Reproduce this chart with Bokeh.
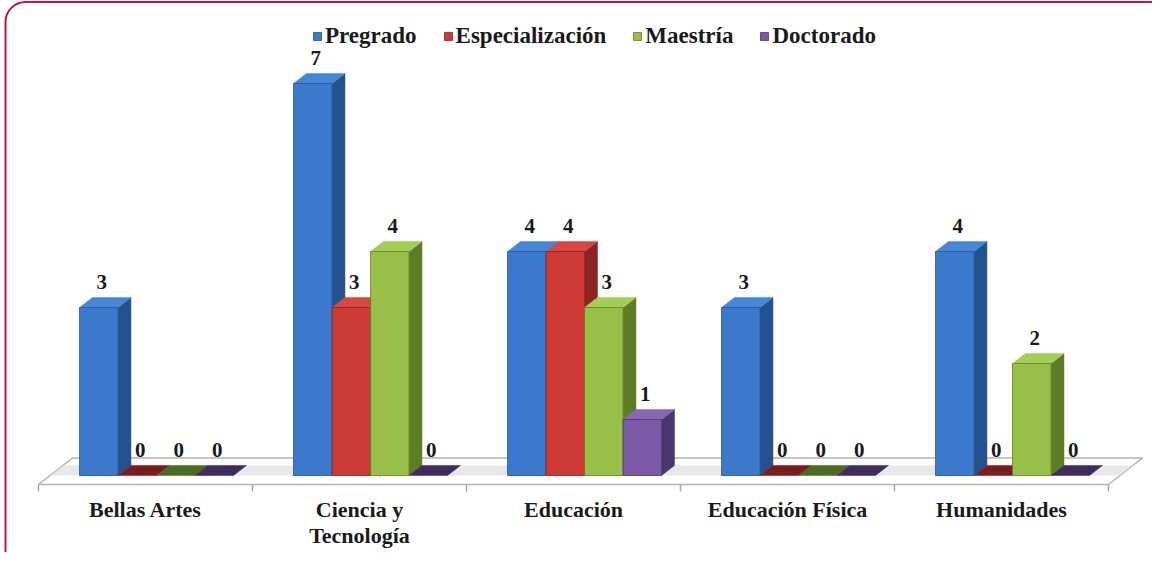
from bokeh.plotting import figure
from bokeh.models import Range1d, Legend, LegendItem, BoxAnnotation
from bokeh.core.properties import value
from bokeh.embed import file_html
from bokeh.resources import INLINE

# ---------------- data ----------------
categories = ["Bellas Artes", "Ciencia y\nTecnología", "Educación", "Educación Física", "Humanidades"]
series_names = ["Pregrado", "Especialización", "Maestría", "Doctorado"]
pregrado = [3, 7, 4, 3, 4]
especializacion = [0, 3, 4, 0, 0]
maestria = [0, 4, 3, 0, 2]
doctorado = [0, 0, 1, 0, 0]
series_values = [pregrado, especializacion, maestria, doctorado]

# ---------------- styles ----------------
front_colors = ["#3a79cc", "#cd3a36", "#98c048", "#7c58a6"]
side_colors = ["#24528f", "#8c2421", "#5f7d27", "#4b356f"]
top_colors = ["#4586d8", "#d64843", "#a6cd56", "#8866b2"]
flat_colors = ["#27508a", "#7a1d1d", "#4f6b23", "#3f2c5e"]
FONT_NAME = "'Liberation Serif', serif"
FONT = value(FONT_NAME)

W, H = 1152, 552
PX_CAT = 214.0     # pixels per category slot
PX_UNIT = 56.0     # pixels per value unit
ORIGIN_X = 38.0    # px from left edge to the front-left corner of the floor
ORIGIN_Y = 77.0    # px from bottom edge to bar base (value 0)
DEPTH_X, DEPTH_Y = 34.0, 26.5  # floor depth offset in px
Z_FRONT, Z_BACK = 0.34, 0.72   # bar depth within floor
GAP_PX = 29.5
BAR_PX = 38.5

x_start = -ORIGIN_X / PX_CAT
x_end = (W - ORIGIN_X) / PX_CAT
y_start = -ORIGIN_Y / PX_UNIT
y_end = (H - ORIGIN_Y) / PX_UNIT
DX = DEPTH_X / PX_CAT
DY = DEPTH_Y / PX_UNIT
n_cat = len(categories)


def proj(x, v, z):
    return x + z * DX, v + (z - Z_FRONT) * DY


def quad(pts):
    xs, ys = zip(*[proj(*p) for p in pts])
    return list(xs), list(ys)


p = figure(width=W, height=H, x_range=Range1d(x_start, x_end), y_range=Range1d(y_start, y_end),
           output_backend="svg", toolbar_location=None, min_border=0,
           x_axis_location=None, y_axis_location=None)
p.grid.visible = False
p.outline_line_color = None
p.background_fill_color = "white"
p.border_fill_color = "white"

# ---------------- floor ----------------
fx, fy = quad([(0, 0, 0), (n_cat, 0, 0), (n_cat, 0, 1), (0, 0, 1)])
p.patch(fx, fy, fill_color="white", line_color="#b3b3b3", line_width=1.5)
sx, sy = quad([(0, 0, Z_FRONT), (n_cat, 0, Z_FRONT), (n_cat, 0, Z_BACK), (0, 0, Z_BACK)])
p.patch(sx, sy, fill_color="#dedede", fill_alpha=0.7, line_color=None)
tick_x0, tick_y0, tick_x1, tick_y1 = [], [], [], []
for k in range(n_cat + 1):
    x0, y0 = proj(k, 0, 0)
    tick_x0.append(x0); tick_y0.append(y0)
    tick_x1.append(x0); tick_y1.append(y0 - 7 / PX_UNIT)
p.segment(tick_x0, tick_y0, tick_x1, tick_y1, line_color="#a6a6a6", line_width=1.5)

# ---------------- bars ----------------
legend_items = []
lab_x, lab_y, lab_t = [], [], []
bw = BAR_PX / PX_CAT
for j, vals in enumerate(series_values):
    fronts = ([], [])
    sides = ([], [])
    tops = ([], [])
    flats = ([], [])
    for i, v in enumerate(vals):
        xl = i + GAP_PX / PX_CAT + j * bw
        xr = xl + bw
        if v > 0:
            a = quad([(xl, 0, Z_FRONT), (xr, 0, Z_FRONT), (xr, v, Z_FRONT), (xl, v, Z_FRONT)])
            b = quad([(xr, 0, Z_FRONT), (xr, 0, Z_BACK), (xr, v, Z_BACK), (xr, v, Z_FRONT)])
            c = quad([(xl, v, Z_FRONT), (xr, v, Z_FRONT), (xr, v, Z_BACK), (xl, v, Z_BACK)])
            fronts[0].append(a[0]); fronts[1].append(a[1])
            sides[0].append(b[0]); sides[1].append(b[1])
            tops[0].append(c[0]); tops[1].append(c[1])
        else:
            c = quad([(xl, 0, Z_FRONT), (xr, 0, Z_FRONT), (xr, 0, Z_BACK), (xl, 0, Z_BACK)])
            flats[0].append(c[0]); flats[1].append(c[1])
        lab_x.append((xl + xr) / 2 + Z_FRONT * DX + 3 / PX_CAT)
        lab_y.append(v + (Z_BACK - Z_FRONT) * DY + 15 / PX_UNIT)
        lab_t.append(str(v))
    p.patches(flats[0], flats[1], fill_color=flat_colors[j], line_color=flat_colors[j], line_width=0.5)
    p.patches(sides[0], sides[1], fill_color=side_colors[j], line_color=side_colors[j], line_width=0.5)
    p.patches(tops[0], tops[1], fill_color=top_colors[j], line_color=top_colors[j], line_width=0.5)
    r = p.patches(fronts[0], fronts[1], fill_color=front_colors[j], line_color=side_colors[j], line_width=0.8)
    legend_items.append(LegendItem(label=series_names[j], renderers=[r]))

p.text(lab_x, lab_y, text=lab_t, text_font=FONT, text_font_size="21px", text_font_style="bold",
       text_color="#1a1a1a", text_align="center", text_baseline="alphabetic")

# ---------------- category labels ----------------
cx = [i + 0.5 for i in range(n_cat)]
cy = [-Z_FRONT * DY - 12 / PX_UNIT] * n_cat
p.text(cx, cy, text=categories, text_font=FONT, text_font_size="22px", text_font_style="bold",
       text_color="#1a1a1a", text_align="center", text_baseline="top", text_line_height=1.05)

# ---------------- legend ----------------
legend = Legend(items=legend_items, orientation="horizontal", location=(312, 503),
                padding=0, margin=0, spacing=26, glyph_width=10, glyph_height=10,
                label_standoff=3, label_text_font=FONT_NAME, label_text_font_size="23px",
                label_text_font_style="bold", label_text_color="#1a1a1a",
                border_line_color=None, background_fill_alpha=0)
p.add_layout(legend)

# ---------------- frame border ----------------
border = BoxAnnotation(left=x_start + 5 / PX_CAT, right=x_end + 20 / PX_CAT,
                       top=y_end - 1.5 / PX_UNIT, bottom=y_start - 20 / PX_UNIT,
                       fill_alpha=0, line_color="#c0163f", line_alpha=1.0, line_width=2,
                       border_radius=20)
p.add_layout(border)

open("out.html", "w").write(file_html(p, INLINE))
